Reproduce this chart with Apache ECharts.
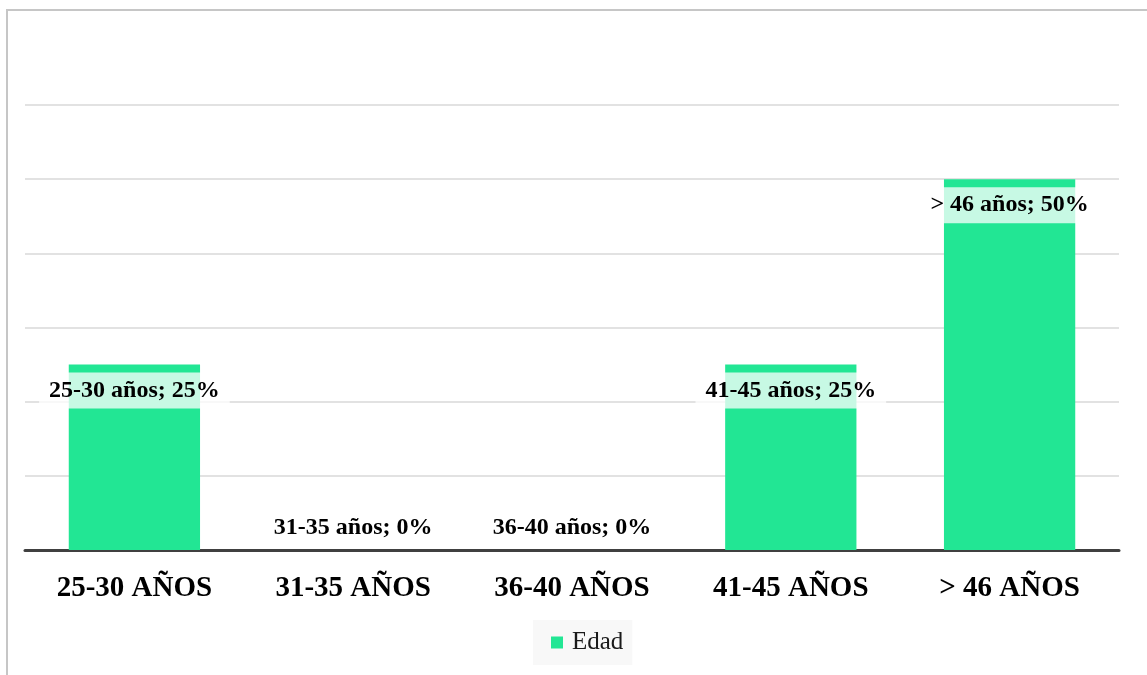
<!DOCTYPE html>
<html>
<head>
<meta charset="utf-8">
<script src="https://cdn.jsdelivr.net/npm/echarts@6/dist/echarts.min.js"></script>
<style>
  html, body { margin: 0; padding: 0; background: #ffffff; }
  #chart { width: 1147px; height: 675px; }
</style>
</head>
<body>
<div id="chart"></div>
<script>
// Age groups and their share (%)
const categories = ['25-30 años', '31-35 años', '36-40 años', '41-45 años', '> 46 años'];
const edad = [25, 0, 0, 25, 50];
const seriesName = 'Edad';

const serif = '"Liberation Serif", "Times New Roman", serif';
const barColor = '#22E694';

const chart = echarts.init(document.getElementById('chart'));

const seriesData = edad.map(v => ({
  value: v,
  label: v > 0
    ? { position: 'insideTop', distance: 8 }
    : { position: 'top', distance: 4 }
}));

chart.setOption({
  animation: false,
  backgroundColor: '#ffffff',
  graphic: [{
    type: 'rect',
    z: 100,
    silent: true,
    shape: { x: 7, y: 10, width: 2000, height: 2000 },
    style: { fill: 'none', stroke: '#c6c6c6', lineWidth: 2 }
  }],
  legend: {
    data: [seriesName],
    bottom: 10,
    left: 533,
    icon: 'rect',
    itemWidth: 12,
    itemHeight: 12,
    padding: [10, 9, 10, 18],
    backgroundColor: '#f8f8f8',
    textStyle: { fontFamily: serif, fontSize: 25, color: '#1a1a1a', padding: [0, 0, 0, 4] }
  },
  grid: { left: 25, right: 28, top: 105, bottom: 125, containLabel: false },
  xAxis: {
    type: 'category',
    data: categories,
    axisLine: { lineStyle: { color: '#404040', width: 3 } },
    axisTick: { show: false },
    axisLabel: {
      margin: 24,
      fontFamily: serif,
      fontSize: 29,
      fontWeight: 'bold',
      color: '#000000',
      formatter: s => s.toUpperCase()
    }
  },
  yAxis: {
    type: 'value',
    min: 0,
    max: 60,
    interval: 10,
    axisLabel: { show: false },
    axisLine: { show: false },
    axisTick: { show: false },
    splitLine: { lineStyle: { color: '#d9d9d9', width: 1.5 } }
  },
  series: [{
    name: seriesName,
    type: 'bar',
    barWidth: '60%',
    itemStyle: { color: barColor },
    data: seriesData,
    label: {
      show: true,
      formatter: p => p.name + '; ' + p.value + '%',
      fontFamily: serif,
      fontSize: 24,
      lineHeight: 24,
      fontWeight: 'bold',
      color: '#000000',
      backgroundColor: 'rgba(255,255,255,0.75)',
      padding: [6, 10]
    }
  }]
});
</script>
</body>
</html>
